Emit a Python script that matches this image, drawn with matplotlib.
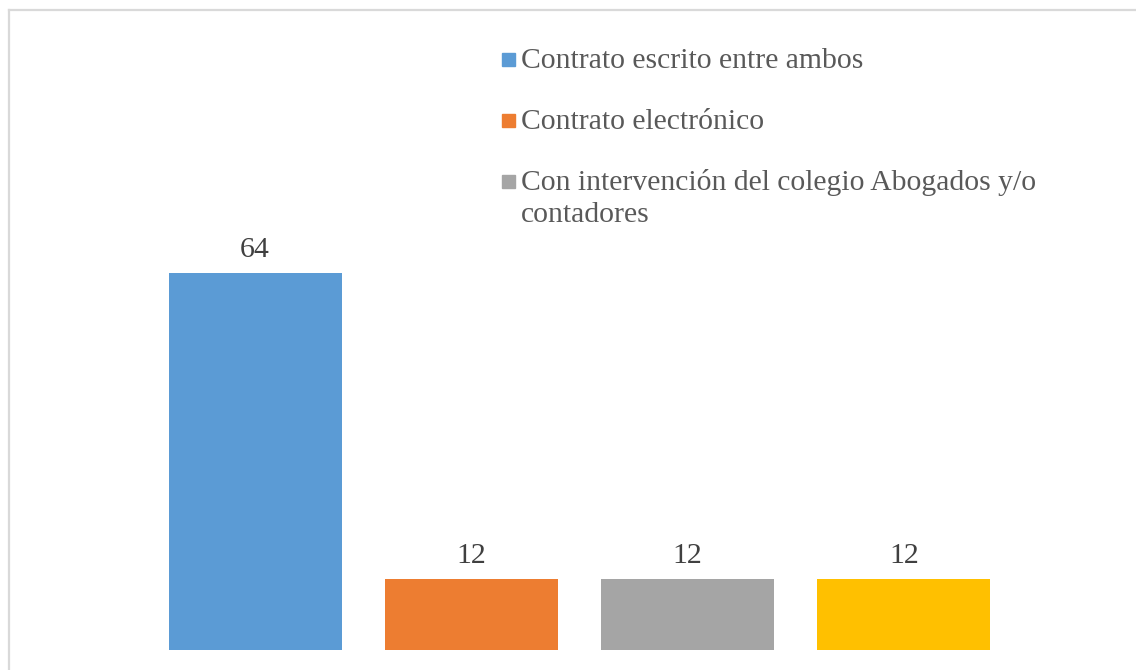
import matplotlib.pyplot as plt
from matplotlib.patches import Rectangle
from matplotlib.lines import Line2D

categories = ['Contrato escrito entre ambos', 'Contrato electrónico',
              'Con intervención del colegio Abogados y/o\ncontadores', 'Otro']
values = [64, 12, 12, 12]
colors = ['#5B9BD5', '#ED7D31', '#A5A5A5', '#FFC000']

plt.rcParams['font.family'] = ['Liberation Serif', 'DejaVu Serif']

W, H = 1136, 670
fig = plt.figure(figsize=(W / 100, H / 100), dpi=100)

# axes placed in pixel coordinates
left, right, bottom, top = 147, 1012, 650, 60
ax = fig.add_axes([left / W, 1 - bottom / H, (right - left) / W, (bottom - top) / H])
ax.bar(range(len(values)), values, width=0.8, color=colors)
ax.set_xlim(-0.5, 3.5)
ax.set_ylim(0, (bottom - top) / 5.89)
ax.axis('off')

for i, v in enumerate(values):
    ax.annotate(str(v), (i, v), xytext=(0, 11.5), textcoords='offset points',
                ha='center', va='baseline', fontsize=21.5, color='#404040')

# chart border (left and top visible)
fig.add_artist(Line2D([9 / W, 9 / W], [0, 1 - 10 / H], color='#D9D9D9', lw=1.6))
fig.add_artist(Line2D([9 / W, 1], [1 - 10 / H, 1 - 10 / H], color='#D9D9D9', lw=1.6))

# legend (only the first three entries fit in the frame)
for k in range(3):
    y = 59 + 61 * k
    fig.add_artist(Rectangle((502 / W, 1 - (y + 7) / H), 13 / W, 13 / H,
                             color=colors[k], transform=fig.transFigure))
    for j, line in enumerate(categories[k].split('\n')):
        fig.text(521 / W, 1 - (y + 9 + 32 * j) / H, line, fontsize=21.3,
                 color='#595959', va='baseline', ha='left')

fig.savefig('out.png', dpi=100)
